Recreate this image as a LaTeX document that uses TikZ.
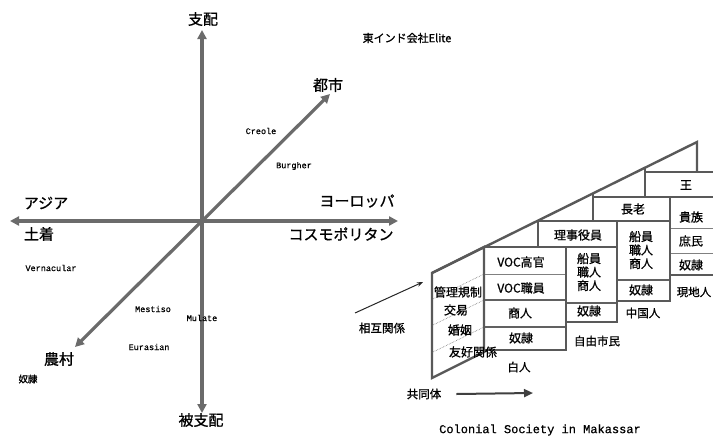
\documentclass[tikz,border=0pt]{standalone}
\usepackage{fontspec}
\newfontfamily\jpf[FakeBold=0.9]{Noto Sans CJK JP}
\newfontfamily\jps{Noto Sans CJK JP}
\newfontfamily\monof[FakeBold=0.6]{Liberation Mono}
\usetikzlibrary{arrows.meta}
\begin{document}
\begin{tikzpicture}[x=1pt,y=-1pt]
\tikzset{
  axisarrow/.style={line width=3.2pt, draw=black!58, {Triangle[length=9pt,width=9pt]}-{Triangle[length=9pt,width=9pt]}},
  biglabel/.style={font=\jpf\fontsize{15}{15}\selectfont, inner sep=0pt},
  smalllabel/.style={font=\monof\fontsize{8.5}{8.5}\selectfont, inner sep=0pt},
  celltext/.style={font=\jpf\fontsize{12}{13.5}\selectfont, inner sep=0pt, align=center},
  grouplabel/.style={font=\jpf\fontsize{11.5}{12}\selectfont, inner sep=0pt},
  border/.style={line width=2.4pt, draw=black!65, line join=miter},
  thinsep/.style={line width=0.8pt, draw=black!50},
  thicksep/.style={line width=1.8pt, draw=black!62},
  dotsep/.style={line width=0.6pt, draw=black!55, densely dotted},
  thinarrow/.style={line width=1pt, draw=black!85, -{Stealth[length=6pt,width=4.5pt]}},
  boldarrow/.style={line width=2pt, draw=black!75, -{Triangle[length=9pt,width=8pt]}},
}
\fill[white] (0,0) rectangle (713,437);
\useasboundingbox (0,0) rectangle (713,437);

% ---------- left diagram: axes ----------
\coordinate (vtop) at (202,30);
\coordinate (vbot) at (202,413);
\coordinate (hleft) at (10,221);
\coordinate (hright) at (398,221);
\coordinate (dtop) at (330,94);
\coordinate (dbot) at (75,347);
\draw[axisarrow] (vbot) -- (vtop);
\draw[axisarrow] (hleft) -- (hright);
\draw[axisarrow] (dbot) -- (dtop);

\node[biglabel] (shihai) at (203,19) {支配};
\node[biglabel] (hishihai) at (201,420) {被支配};
\node[biglabel] (toshi) at (328,85) {都市};
\node[biglabel] (noson) at (59,359) {農村};
\node[biglabel] (asia) at (46,203) {アジア};
\node[biglabel] (dochaku) at (39,234) {土着};
\node[biglabel] (europe) at (357,201) {ヨーロッパ};
\node[biglabel] (cosmo) at (341,234) {コスモポリタン};

\node[font=\jpf\fontsize{9.5}{10}\selectfont, inner sep=0pt] (doreiL) at (28,379) {奴隷};
\node[font=\jpf\fontsize{11}{11}\selectfont, inner sep=0pt] (voc) at (407,38) {東インド会社Elite};
\node[smalllabel] (creole) at (261,131) {Creole};
\node[smalllabel] (burgher) at (294,166) {Burgher};
\node[smalllabel] (vern) at (51,268) {Vernacular};
\node[smalllabel] (mestiso) at (153,309) {Mestiso};
\node[smalllabel] (mulate) at (202,318) {Mulate};
\node[smalllabel] (eurasian) at (149,347) {Eurasian};

% ---------- right diagram: staircase ----------
\begin{scope}
\clip (0,0) rectangle (713,437);
% hypotenuse and apex
\draw[border] (432,273) -- (697,142) -- (697,172);
% side face (parallelogram)
\draw[border] (432,273) -- (484,247) -- (484,352) -- (432,378) -- cycle;
\draw[dotsep] (484,274) -- (432,299.5);
\draw[dotsep] (484,300) -- (432,325.5);
\draw[dotsep] (484,327) -- (432,352.5);
% whites column
\draw[thinsep] (484,274) -- (566,274);
\draw[thicksep] (484,300) -- (566,300);
\draw[thicksep] (484,327) -- (566,327);
\draw[border] (484,247) rectangle (566,350);
% free burghers
\draw[thicksep] (566,303) -- (617,303);
\draw[border] (566,247) rectangle (617,322);
\draw[border] (538,221) rectangle (617,247);
% chinese
\draw[thicksep] (617,280) -- (670,280);
\draw[border] (617,221) rectangle (670,301);
\draw[border] (593,193.4) -- (593,197);
\draw[border] (593,197) rectangle (670,221);
% locals
\draw[thinsep] (670,228) -- (720,228);
\draw[thinsep] (670,253) -- (720,253);
\draw[border] (670,197) rectangle (720,275);
\draw[border] (645,167.7) -- (645,172);
\draw[border] (645,172) rectangle (720,197);
\end{scope}

% cell texts
\node[celltext] (ou) at (686,185) {王};
\node[celltext] (kizoku) at (691,217) {貴族};
\node[celltext] (shomin) at (691,241) {庶民};
\node[celltext] (doreiG) at (691,265) {奴隷};
\node[grouplabel] (genchi) at (694,292) {現地人};

\node[celltext] (choro) at (633,209) {長老};
\node[celltext] (senC) at (641,250) {船員\\職人\\商人};
\node[celltext] (doreiC) at (641,290) {奴隷};
\node[grouplabel] (chugoku) at (643,313) {中国人};

\node[celltext] (riji) at (578,235) {理事役員};
\node[celltext] (senF) at (589,272) {船員\\職人\\商人};
\node[celltext] (doreiF) at (589,311) {奴隷};
\node[grouplabel] (jiyu) at (597,341) {自由市民};

\node[celltext] (vochigh) at (521,262) {VOC高官};
\node[celltext] (voclow) at (521,288) {VOC職員};
\node[celltext] (shoninW) at (520,313) {商人};
\node[celltext] (doreiW) at (521,338) {奴隷};
\node[grouplabel] (hakujin) at (519,367) {白人};

\node[celltext] (kanri) at (458,292) {管理規制};
\node[celltext] (koeki) at (456,310) {交易};
\node[celltext] (konin) at (460,330) {婚姻};
\node[celltext] (yuko) at (473,352) {友好関係};

% arrows and captions
\node[grouplabel] (sogo) at (382,328) {相互関係};
\coordinate (sogoA) at (355,313);
\coordinate (sogoB) at (423,282);
\draw[thinarrow] (sogoA) -- (sogoB);
\node[grouplabel] (kyodo) at (424,394) {共同体};
\coordinate (kyodoB) at (533,393);
\draw[boldarrow] ([xshift=15pt]kyodo.east) -- (kyodoB);

\node[font=\monof\fontsize{12}{12}\selectfont, inner sep=0pt] (title) at (540,430) {Colonial Society in Makassar};
\end{tikzpicture}
\end{document}
